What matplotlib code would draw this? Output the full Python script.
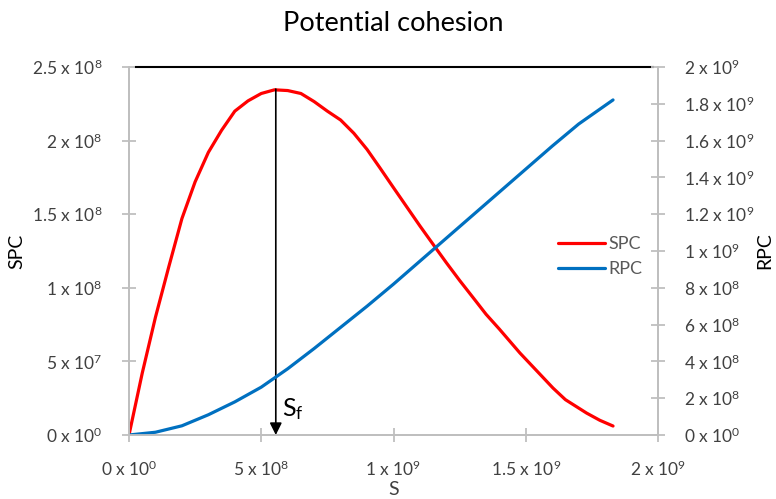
import numpy as np
import matplotlib
matplotlib.use("Agg")
from matplotlib import pyplot as plt

plt.rcParams['font.family'] = ['Lato', 'DejaVu Sans']
plt.rcParams['mathtext.fontset'] = 'custom'
plt.rcParams['mathtext.rm'] = 'Lato'
plt.rcParams['mathtext.it'] = 'Lato:italic'

# data
s_spc = [0, 0.05e9, 0.1e9, 0.15e9, 0.2e9, 0.25e9, 0.3e9, 0.35e9, 0.4e9, 0.45e9,
         0.5e9, 0.55e9, 0.6e9, 0.65e9, 0.7e9, 0.75e9, 0.8e9, 0.85e9, 0.9e9,
         0.949e9, 1.0e9, 1.05e9, 1.1e9, 1.157e9, 1.2e9, 1.25e9, 1.308e9, 1.35e9,
         1.4e9, 1.478e9, 1.55e9, 1.603e9, 1.65e9, 1.73e9, 1.78e9, 1.83e9]
spc = [0, 0.42e8, 0.8e8, 1.14e8, 1.47e8, 1.72e8, 1.92e8, 2.07e8, 2.2e8, 2.27e8,
       2.32e8, 2.345e8, 2.34e8, 2.32e8, 2.265e8, 2.2e8, 2.14e8, 2.05e8, 1.94e8,
       1.814e8, 1.68e8, 1.55e8, 1.42e8, 1.277e8, 1.17e8, 1.05e8, 0.917e8, 0.82e8,
       0.72e8, 0.557e8, 0.42e8, 0.319e8, 0.24e8, 0.149e8, 0.1e8, 0.061e8]

s_rpc = [0, 0.1e9, 0.2e9, 0.3e9, 0.4e9, 0.5e9, 0.55e9, 0.6e9, 0.7e9, 0.8e9, 0.9e9,
         1.0e9, 1.1e9, 1.2e9, 1.3e9, 1.4e9, 1.5e9, 1.6e9, 1.7e9, 1.83e9]
rpc = [0, 0.015e9, 0.05e9, 0.11e9, 0.18e9, 0.26e9, 0.31e9, 0.36e9, 0.47e9, 0.585e9,
       0.70e9, 0.82e9, 0.945e9, 1.07e9, 1.195e9, 1.32e9, 1.445e9, 1.57e9, 1.69e9,
       1.821e9]

x_ticks = [0, 5e8, 1e9, 1.5e9, 2e9]
x_labels = ["0 x 10$^{0}$", "5 x 10$^{8}$", "1 x 10$^{9}$", "1.5 x 10$^{9}$", "2 x 10$^{9}$"]
spc_ticks = [0, 5e7, 1e8, 1.5e8, 2e8, 2.5e8]
spc_labels = ["0 x 10$^{0}$", "5 x 10$^{7}$", "1 x 10$^{8}$", "1.5 x 10$^{8}$",
              "2 x 10$^{8}$", "2.5 x 10$^{8}$"]
rpc_ticks = [0, 2e8, 4e8, 6e8, 8e8, 1e9, 1.2e9, 1.4e9, 1.6e9, 1.8e9, 2e9]
rpc_labels = ["0 x 10$^{0}$", "2 x 10$^{8}$", "4 x 10$^{8}$", "6 x 10$^{8}$",
              "8 x 10$^{8}$", "1 x 10$^{9}$", "1.2 x 10$^{9}$", "1.4 x 10$^{9}$",
              "1.6 x 10$^{9}$", "1.8 x 10$^{9}$", "2 x 10$^{9}$"]

s_f = 5.55e8
spc_peak = 2.35e8
top_line_x = [0.026e9, 1.98e9]
top_line_y = 2.5e8

grey = "#BFBFBF"
txt = "#404040"

fig = plt.figure(figsize=(7.76, 4.99), dpi=100)
ax = fig.add_axes([129/776, 1 - 435/499, 529/776, 368/499])
ax2 = ax.twinx()

l1, = ax.plot(s_spc, spc, color="#FF0000", lw=2.3, label="SPC", solid_capstyle="round")
l2, = ax2.plot(s_rpc, rpc, color="#0070C0", lw=2.3, label="RPC", solid_capstyle="round")
ax.plot(top_line_x, [top_line_y, top_line_y], color="black", lw=1.5, clip_on=False)

ax.annotate("", xy=(s_f, 0), xytext=(s_f, spc_peak),
            arrowprops=dict(arrowstyle="-|>", color="black", lw=1.2,
                            mutation_scale=18, shrinkA=0, shrinkB=0))
ax.text(s_f + 0.022e9, 1.3e7, "S$_\\mathrm{f}$", fontsize=18, color="black")

ax.set_xlim(0, 2e9)
ax.set_ylim(0, 2.5e8)
ax2.set_ylim(0, 2e9)

ax.set_xticks(x_ticks)
ax.set_xticklabels(x_labels)
ax.set_yticks(spc_ticks)
ax.set_yticklabels(spc_labels)
ax2.set_yticks(rpc_ticks)
ax2.set_yticklabels(rpc_labels)

for a in (ax, ax2):
    for sp in a.spines.values():
        sp.set_color(grey)
        sp.set_linewidth(1.3)
    a.spines["top"].set_visible(False)
ax.tick_params(axis="both", direction="inout", length=10, width=1.3, color=grey,
               labelsize=12.5, labelcolor=txt)
ax.tick_params(axis="x", pad=13)
ax.tick_params(axis="y", pad=14)
ax2.tick_params(axis="y", direction="inout", length=10, width=1.3, color=grey,
                labelsize=12.5, labelcolor=txt, pad=14)

ax.set_ylabel("SPC", fontsize=14, color="black")
ax2.set_ylabel("RPC", fontsize=14, color="black")
ax.yaxis.set_label_coords(-0.196, 0.5)
ax2.yaxis.set_label_coords(1.186, 0.5)
ax.set_xlabel("S", fontsize=14, color=txt, labelpad=1)
ax.set_title("Potential cohesion", fontsize=19.5, color="black", pad=26)

leg = ax.legend(handles=[l1, l2], loc="center left", bbox_to_anchor=(0.78, 0.485),
                frameon=False, fontsize=13, handlelength=2.6, handletextpad=0.2,
                labelspacing=0.5)
for t in leg.get_texts():
    t.set_color("#595959")

fig.savefig("out.png", dpi=100)
